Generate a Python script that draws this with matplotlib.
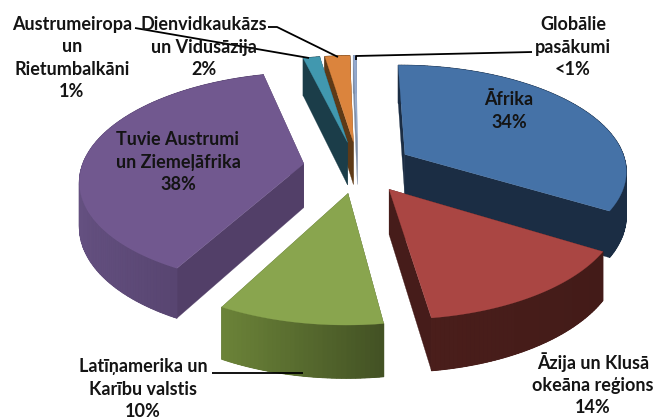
import matplotlib
matplotlib.use('Agg')
import matplotlib.pyplot as plt
from matplotlib.patches import Polygon
import numpy as np

# slices, clockwise from 12 o'clock
values = [33.5, 14, 10, 38, 1.4, 2.1, 0.25]
top_colors = ['#4572A7', '#AA4643', '#89A54E', '#71588F', '#4198AF', '#DB843D', '#93A9CF']
cut_colors = ['#1B2D44', '#461C1A', '#4A5A2A', '#523F68', '#1B3D49', '#5E3A17', '#7F8FA8']
rim_left = ['#1B2D44', '#4A1E1B', '#6C8439', '#645080', '#1B3D49', '#5E3A17', '#7F8FA8']
rim_right = ['#1B2D44', '#431B18', '#435224', '#4D3B63', '#1B3D49', '#5E3A17', '#7F8FA8']

# label text, centre x, centre y
label_texts = ['Āfrika\n34%', 'Āzija un Klusā\nokeāna reģions\n14%',
               'Latīņamerika un\nKarību valstis\n10%', 'Tuvie Austrumi\nun Ziemeļāfrika\n38%',
               'Austrumeiropa\nun\nRietumbalkāni\n1%', 'Dienvidkaukāzs\nun Vidusāzija\n2%',
               'Globālie\npasākumi\n<1%']
label_x = [509, 593, 143, 178, 72, 204, 573]
label_y = [111, 384, 389, 162, 58, 47, 47]

leader_lines = [
    [(135, 28), (309, 58)],
    [(268, 27), (277, 27), (338, 57)],
    [(356, 60), (356, 56), (532, 52)],
    [(212, 373), (303, 373)],
]

# perspective model of the pie
cx, cy = 358, 167
a_scale, b_scale = 222, 105
persp = 0.14
thick = 44
explode = 0.247
start_deg = -0.3


def project(u, v, down=0.0):
    s = 1.0 / (1.0 + persp * v)
    return cx + a_scale * u * s, cy - b_scale * v * s + thick * down * s


def mix(c1, c2, t):
    r1 = np.array(matplotlib.colors.to_rgb(c1))
    r2 = np.array(matplotlib.colors.to_rgb(c2))
    return tuple(r1 + (r2 - r1) * t)


fig = plt.figure(figsize=(6.55, 4.19), dpi=100)
ax = fig.add_axes([0, 0, 1, 1])
ax.set_xlim(0, 655)
ax.set_ylim(419, 0)
ax.axis('off')

total = sum(values)
edges = np.concatenate([[0], np.cumsum(values)]) / total * 2 * np.pi + np.radians(start_deg)

wedges = []
for i in range(len(values)):
    a0, a1 = edges[i], edges[i + 1]
    mid = (a0 + a1) / 2
    ou, ov = explode * np.sin(mid), explode * np.cos(mid)
    wedges.append((ov, i, a0, a1, ou))

# far slices first so the near ones paint over them
for ov, i, a0, a1, ou in sorted(wedges, reverse=True):
    angles = np.linspace(a0, a1, max(6, int((a1 - a0) * 60)))
    us = ou + np.sin(angles)
    vs = ov + np.cos(angles)

    for k in (0, -1):
        quad = [project(ou, ov), project(us[k], vs[k]),
                project(us[k], vs[k], 1), project(ou, ov, 1)]
        ax.add_patch(Polygon(quad, facecolor=cut_colors[i], edgecolor=cut_colors[i], lw=0.2))

    top = [project(u, v) for u, v in zip(us, vs)]
    low = [project(u, v, 1) for u, v in zip(us, vs)]
    xs = [p[0] for p in top]

    # solid rim underneath, the shaded strips go on top without seams
    base = mix(rim_left[i], rim_right[i], 0.5)
    ax.add_patch(Polygon(top + low[::-1], facecolor=base, edgecolor=base, lw=0.2))
    for j in range(len(top) - 1):
        t = (xs[j] - min(xs)) / max(max(xs) - min(xs), 1)
        col = mix(rim_left[i], rim_right[i], t)
        ax.add_patch(Polygon([top[j], top[j + 1], low[j + 1], low[j]],
                             facecolor=col, edgecolor=col, lw=0.7))

    ax.add_patch(Polygon([project(ou, ov)] + top, facecolor=top_colors[i],
                         edgecolor=top_colors[i], lw=0.2))

for line in leader_lines:
    ax.plot([p[0] for p in line], [p[1] for p in line], color='black', lw=1.3,
            solid_capstyle='butt', zorder=5)

for text, x, y in zip(label_texts, label_x, label_y):
    ax.text(x, y, text, ha='center', va='center', fontsize=13, fontweight='bold',
            family='Lato', color='#141414', linespacing=1.38, zorder=6)

plt.savefig('out.png', dpi=100)
